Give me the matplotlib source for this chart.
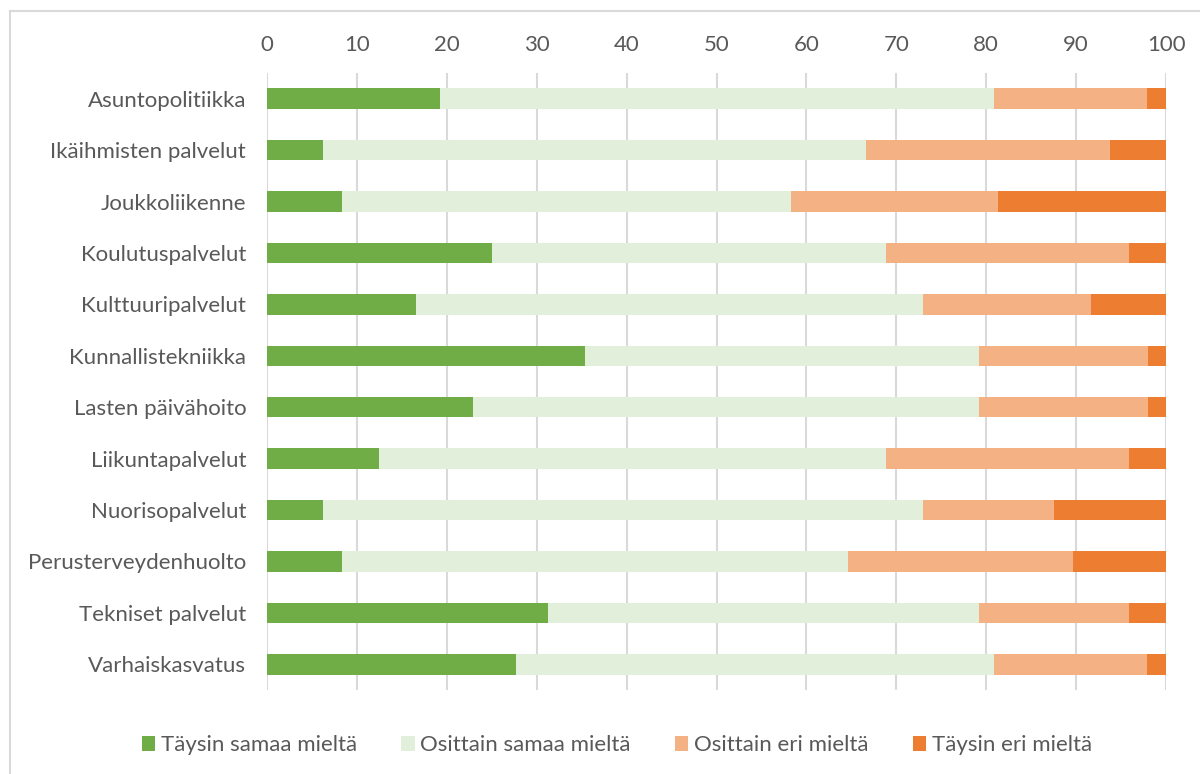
import matplotlib.pyplot as plt
from matplotlib.lines import Line2D

plt.rcParams['font.family'] = ['Lato', 'DejaVu Sans']

categories = ["Asuntopolitiikka", "Ikäihmisten palvelut", "Joukkoliikenne",
              "Koulutuspalvelut", "Kulttuuripalvelut", "Kunnallistekniikka",
              "Lasten päivähoito", "Liikuntapalvelut", "Nuorisopalvelut",
              "Perusterveydenhuolto", "Tekniset palvelut", "Varhaiskasvatus"]
series_names = ["Täysin samaa mieltä", "Osittain samaa mieltä",
                "Osittain eri mieltä", "Täysin eri mieltä"]
taysin_samaa = [19.2, 6.25, 8.3, 25.0, 16.6, 35.4, 22.9, 12.5, 6.25, 8.3, 31.2, 27.7]
osittain_samaa = [61.7, 60.4, 50.0, 43.8, 56.4, 43.8, 56.3, 56.3, 66.75, 56.3, 48.0, 53.2]
osittain_eri = [17.0, 27.1, 23.0, 27.1, 18.7, 18.8, 18.8, 27.1, 14.5, 25.0, 16.7, 17.0]
taysin_eri = [2.1, 6.25, 18.7, 4.1, 8.3, 2.0, 2.0, 4.1, 12.5, 10.4, 4.1, 2.1]
colors = ["#70ad47", "#e2efda", "#f4b183", "#ed7d31"]

fig = plt.figure(figsize=(12, 7.74), dpi=100)
ax = fig.add_axes([0.2225, 0.1085, 0.7492, 0.7972])

ypos = list(range(len(categories)))
left = [0.0] * len(categories)
for name, vals, c in zip(series_names,
                         [taysin_samaa, osittain_samaa, osittain_eri, taysin_eri],
                         colors):
    ax.barh(ypos, vals, left=left, height=0.4, color=c, label=name, zorder=3)
    left = [a + b for a, b in zip(left, vals)]

ax.set_ylim(len(categories) - 0.5, -0.5)
ax.set_xlim(0, 100)
ax.set_xticks(range(0, 101, 10))
ax.set_yticks(ypos)
ax.set_yticklabels(categories)
ax.xaxis.tick_top()
ax.tick_params(axis='x', length=0, pad=13, labelsize=16, labelcolor="#595959")
ax.tick_params(axis='y', length=0, pad=15, labelsize=16, labelcolor="#595959")
ax.grid(axis='x', color="#d9d9d9", linewidth=1.5, zorder=0)
for s in ax.spines.values():
    s.set_visible(False)

leg = fig.legend(loc='center', bbox_to_anchor=(0.514, 0.037), ncol=4, frameon=False,
                 fontsize=16, handlelength=0.6, handleheight=0.6,
                 handletextpad=0.25, columnspacing=2.0)
for t in leg.get_texts():
    t.set_color("#595959")

# outer chart border (top and left visible)
fig.add_artist(Line2D([10 / 1200, 1.0], [1 - 11 / 774, 1 - 11 / 774],
                      transform=fig.transFigure, color="#d9d9d9", linewidth=1.5))
fig.add_artist(Line2D([10 / 1200, 10 / 1200], [0.0, 1 - 11 / 774],
                      transform=fig.transFigure, color="#d9d9d9", linewidth=1.5))

fig.savefig("out.png", dpi=100)
